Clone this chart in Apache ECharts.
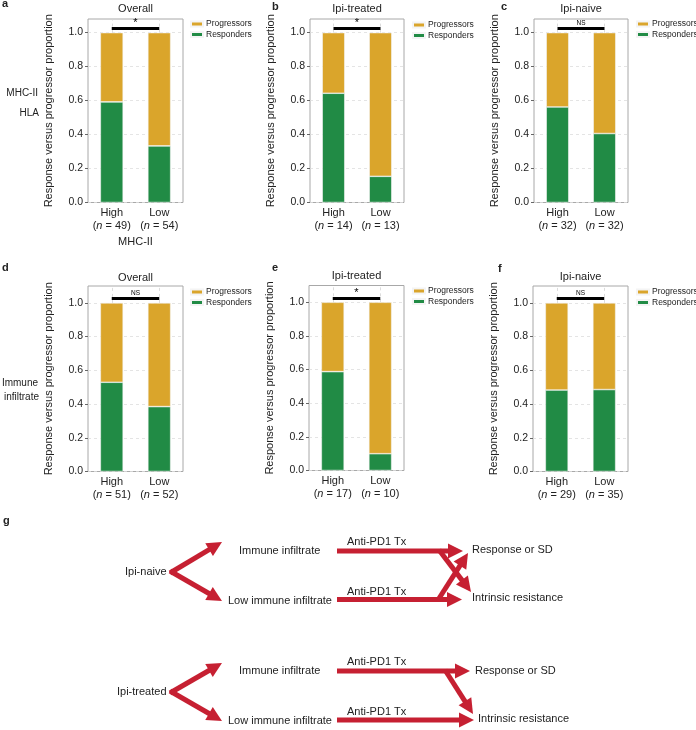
<!DOCTYPE html>
<html>
<head>
<meta charset="utf-8">
<script src="https://cdn.jsdelivr.net/npm/echarts@6/dist/echarts.min.js"></script>
<style>html,body{margin:0;padding:0;background:#fff;}#chart{width:696px;height:730px;}</style>
</head>
<body>
<div id="chart"></div>
<script>
// ---------------- data ----------------
const categories = ['High', 'Low'];
const panelTitles = ['Overall', 'Ipi-treated', 'Ipi-naive', 'Overall', 'Ipi-treated', 'Ipi-naive'];
const respondersA = [0.592, 0.333];
const progressorsA = [0.408, 0.667];
const countsA = [49, 54];
const respondersB = [0.643, 0.154];
const progressorsB = [0.357, 0.846];
const countsB = [14, 13];
const respondersC = [0.5625, 0.406];
const progressorsC = [0.4375, 0.594];
const countsC = [32, 32];
const respondersD = [0.529, 0.385];
const progressorsD = [0.471, 0.615];
const countsD = [51, 52];
const respondersE = [0.588, 0.100];
const progressorsE = [0.412, 0.900];
const countsE = [17, 10];
const respondersF = [0.483, 0.486];
const progressorsF = [0.517, 0.514];
const countsF = [29, 35];
const sigLabels = ['*', '*', 'NS', 'NS', '*', 'NS'];
const sigLevel = 1.025;
const yTicks = [0, 0.2, 0.4, 0.6, 0.8, 1.0];
const yAxisTitle = 'Response versus progressor proportion';
const xAxisTitle = 'MHC-II';

const responders = [respondersA, respondersB, respondersC, respondersD, respondersE, respondersF];
const progressors = [progressorsA, progressorsB, progressorsC, progressorsD, progressorsE, progressorsF];
const counts = [countsA, countsB, countsC, countsD, countsE, countsF];

// ---------------- layout / style ----------------
const FONT = '"Liberation Sans", Arial, Helvetica, sans-serif';
const TXT = '#222';
const GREEN = '#218B45';
const YELLOW = '#DAA52B';
const RED = '#C62032';
const gridBoxes = [
  {left: 88, top: 19, width: 95, height: 183.5, max: 1.08},
  {left: 310, top: 19, width: 94, height: 183.5, max: 1.08},
  {left: 534, top: 19, width: 94, height: 183.5, max: 1.08},
  {left: 88, top: 286, width: 95, height: 185.5, max: 1.10},
  {left: 309, top: 285.5, width: 95, height: 185, max: 1.10},
  {left: 533, top: 286, width: 95, height: 185.5, max: 1.10}
];
const legendPos = [
  {left: 190, top: 19}, {left: 412, top: 20}, {left: 636, top: 19},
  {left: 190, top: 287}, {left: 412, top: 286}, {left: 636, top: 287}
];
const titleY = [9, 9, 9, 277.5, 276, 276.5];

const grids = [], xAxes = [], yAxes = [], series = [], legends = [];
gridBoxes.forEach((g, i) => {
  grids.push({left: g.left, top: g.top, width: g.width, height: g.height,
    show: true, borderColor: '#a8a8a8', borderWidth: 1, backgroundColor: 'transparent'});
  const cnt = counts[i];
  xAxes.push({
    type: 'category', gridIndex: i, data: categories,
    axisLine: {show: false}, axisTick: {show: false}, splitLine: {show: false},
    axisLabel: {
      interval: 0, hideOverlap: false,
      margin: 4, color: TXT, fontSize: 11, lineHeight: 13, fontFamily: FONT,
      formatter: (v, idx) => '{t|' + v + '}\n({i|n} = ' + cnt[idx] + ')',
      rich: {
        t: {fontSize: 11, lineHeight: 13, fontFamily: FONT, color: TXT},
        i: {fontSize: 11, lineHeight: 13, fontFamily: FONT, color: TXT, fontStyle: 'italic'}
      }
    },
    name: i === 0 ? xAxisTitle : '', nameLocation: 'middle', nameGap: 34,
    nameTextStyle: {fontSize: 11, color: TXT, fontFamily: FONT}
  });
  yAxes.push({
    type: 'value', gridIndex: i, min: 0, max: g.max, interval: 0.2,
    axisLine: {show: false},
    axisTick: {show: true, length: 3, lineStyle: {color: '#666'},
      customValues: yTicks},
    axisLabel: {margin: 5, color: TXT, fontSize: 10.5, fontFamily: FONT,
      customValues: yTicks,
      formatter: v => {
        const k = v / 0.2;
        return Math.abs(k - Math.round(k)) < 1e-6 ? v.toFixed(1) : '';
      }},
    splitLine: {show: true, lineStyle: {color: '#dedede', type: [3, 3], width: 0.8}},
    name: yAxisTitle, nameLocation: 'middle', nameGap: 34,
    nameTextStyle: {fontSize: 11, color: TXT, fontFamily: FONT}
  });
  series.push({
    name: 'Responders', type: 'bar', xAxisIndex: i, yAxisIndex: i, stack: 's' + i,
    data: responders[i], barWidth: '48%',
    itemStyle: {color: GREEN, borderColor: '#f4f4f4', borderWidth: 0.6}, z: 3
  });
  const sigItem = [
    {coord: [categories[0], sigLevel],
     lineStyle: {color: '#000', width: 3, type: 'solid'},
     label: {show: true, formatter: sigLabels[i], position: 'insideMiddleTop',
       distance: sigLabels[i] === '*' ? 0 : 2,
       fontSize: sigLabels[i] === '*' ? 11 : 6.5, color: '#000', fontFamily: FONT}},
    {coord: [categories[1], sigLevel]}
  ];
  const vLine = c => [
    {coord: [c, 1.0], lineStyle: {color: '#d4d4d4', width: 0.8, type: [3, 3]}, label: {show: false}},
    {coord: [c, g.max]}
  ];
  series.push({
    name: 'Progressors', type: 'bar', xAxisIndex: i, yAxisIndex: i, stack: 's' + i,
    data: progressors[i], barWidth: '48%',
    itemStyle: {color: YELLOW, borderColor: '#f4f4f4', borderWidth: 0.6}, z: 3,
    markLine: {silent: true, symbol: ['none', 'none'], animation: false,
      data: [vLine(categories[0]), vLine(categories[1]), sigItem]}
  });
  legends.push({
    data: ['Progressors', 'Responders'], orient: 'vertical',
    left: legendPos[i].left, top: legendPos[i].top, padding: 0,
    itemWidth: 12, itemHeight: 5, itemGap: 0.5, icon: 'rect', selectedMode: false,
    textStyle: {fontSize: 8.5, lineHeight: 10, color: TXT, fontFamily: FONT, padding: [0, 0, 0, -2]}
  });
});

// ---------------- graphic (titles, letters, diagram) ----------------
function txt(x, y, text, opt) {
  opt = opt || {};
  const align = opt.align || 'left';
  return {type: 'text', x: x, y: y, silent: true, z: 10,
    style: {text: text, x: 0, y: 0,
      font: (opt.bold ? 'bold ' : '') + (opt.size || 11) + 'px ' + FONT,
      fill: opt.color || TXT,
      textAlign: align, align: align,
      textVerticalAlign: 'middle', verticalAlign: 'middle'}};
}
function arrow(x1, y1, x2, y2) {
  const head = 15, hw = 7.5;
  const dx = x2 - x1, dy = y2 - y1, L = Math.hypot(dx, dy);
  const ux = dx / L, uy = dy / L, px = -uy, py = ux;
  const bx = x2 - ux * head, by = y2 - uy * head;
  return [
    {type: 'line', silent: true, z: 10, shape: {x1: x1, y1: y1, x2: bx + ux, y2: by + uy},
      style: {stroke: RED, lineWidth: 5, lineCap: 'butt'}},
    {type: 'polygon', silent: true, z: 10,
      shape: {points: [[x2, y2], [bx + px * hw, by + py * hw], [bx - px * hw, by - py * hw]]},
      style: {fill: RED}}
  ];
}

const graphics = [];
gridBoxes.forEach((g, i) => {
  graphics.push(txt(g.left + g.width / 2, titleY[i], panelTitles[i], {align: 'center', size: 11}));
});
const letterPos = [[2, 4], [272, 7], [501, 7], [2, 268], [272, 268], [498, 269], [3, 521]];
['a', 'b', 'c', 'd', 'e', 'f', 'g'].forEach((l, i) => {
  graphics.push(txt(letterPos[i][0], letterPos[i][1], l, {bold: true, size: 11}));
});
graphics.push(txt(38, 93, 'MHC-II', {align: 'right', size: 10}));
graphics.push(txt(39, 113, 'HLA', {align: 'right', size: 10}));
graphics.push(txt(38, 383, 'Immune', {align: 'right', size: 10}));
graphics.push(txt(39, 397, 'infiltrate', {align: 'right', size: 10}));

// diagram 1 (Ipi-naive)
graphics.push(txt(125, 572, 'Ipi-naive'));
graphics.push(txt(239, 551, 'Immune infiltrate'));
graphics.push(txt(228, 601, 'Low immune infiltrate'));
graphics.push(txt(347, 542, 'Anti-PD1 Tx'));
graphics.push(txt(347, 592, 'Anti-PD1 Tx'));
graphics.push(txt(472, 550, 'Response or SD'));
graphics.push(txt(472, 598, 'Intrinsic resistance'));
graphics.push(...arrow(170, 573, 222, 542));
graphics.push(...arrow(170, 571, 222, 601));
graphics.push(...arrow(337, 551, 463, 551));
graphics.push(...arrow(337, 599.5, 462, 599.5));
graphics.push(...arrow(439, 550, 471, 592));
graphics.push(...arrow(438, 600, 468, 553));

// diagram 2 (Ipi-treated)
graphics.push(txt(117, 692, 'Ipi-treated'));
graphics.push(txt(239, 671, 'Immune infiltrate'));
graphics.push(txt(228, 721, 'Low immune infiltrate'));
graphics.push(txt(347, 662, 'Anti-PD1 Tx'));
graphics.push(txt(347, 712, 'Anti-PD1 Tx'));
graphics.push(txt(475, 671, 'Response or SD'));
graphics.push(txt(478, 719, 'Intrinsic resistance'));
graphics.push(...arrow(170, 693, 222, 663));
graphics.push(...arrow(170, 691, 222, 721));
graphics.push(...arrow(337, 671, 470, 671));
graphics.push(...arrow(337, 720, 474, 720));
graphics.push(...arrow(445, 670, 473, 714));

const chart = echarts.init(document.getElementById('chart'), null, {renderer: 'canvas'});
chart.setOption({
  animation: false,
  backgroundColor: '#fff',
  textStyle: {fontFamily: FONT},
  grid: grids, xAxis: xAxes, yAxis: yAxes, series: series, legend: legends,
  graphic: {elements: graphics}
});
</script>
</body>
</html>
